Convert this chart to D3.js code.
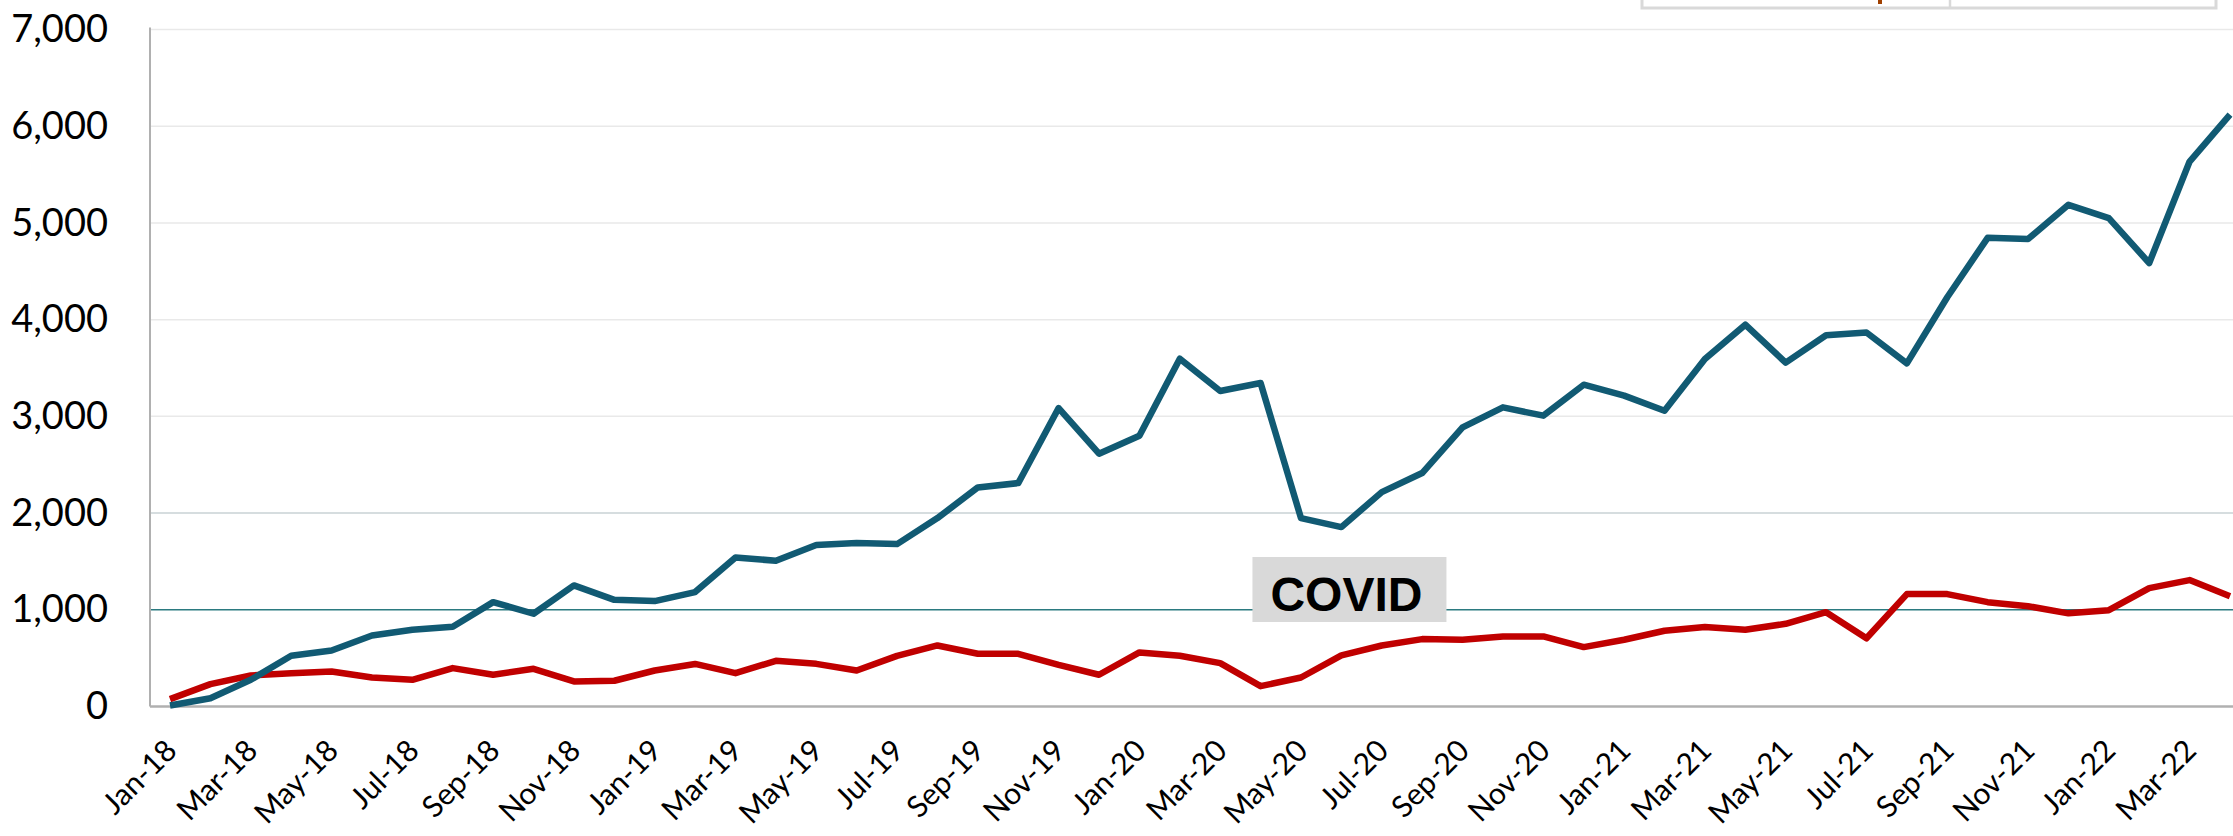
<!DOCTYPE html>
<html>
<head>
<meta charset="utf-8">
<script src="https://d3js.org/d3.v7.min.js"></script>
<style>
  body { margin: 0; background: #fff; }
  svg { display: block; }
</style>
</head>
<body>
<div id="chart"></div>
<script>
// chart data
var months = ["Jan-18","Feb-18","Mar-18","Apr-18","May-18","Jun-18","Jul-18","Aug-18","Sep-18","Oct-18","Nov-18","Dec-18",
  "Jan-19","Feb-19","Mar-19","Apr-19","May-19","Jun-19","Jul-19","Aug-19","Sep-19","Oct-19","Nov-19","Dec-19",
  "Jan-20","Feb-20","Mar-20","Apr-20","May-20","Jun-20","Jul-20","Aug-20","Sep-20","Oct-20","Nov-20","Dec-20",
  "Jan-21","Feb-21","Mar-21","Apr-21","May-21","Jun-21","Jul-21","Aug-21","Sep-21","Oct-21","Nov-21","Dec-21",
  "Jan-22","Feb-22","Mar-22","Apr-22"];

var blueValues = [10, 86, 276, 524, 579, 734, 793, 824, 1079, 959, 1252, 1103,
  1090, 1183, 1541, 1507, 1669, 1690, 1679, 1948, 2265, 2310, 3086, 2614,
  2800, 3596, 3262, 3345, 1948, 1855, 2217, 2414, 2886, 3093, 3007, 3327,
  3214, 3058, 3593, 3948, 3555, 3838, 3867, 3548, 4232, 4846, 4834, 5187,
  5050, 4585, 5635, 6120];

var redValues = [76, 231, 321, 345, 362, 300, 276, 397, 328, 390, 259, 266,
  372, 440, 345, 472, 441, 372, 524, 631, 545, 545, 431, 328,
  559, 524, 448, 210, 300, 528, 631, 697, 690, 724, 724, 614,
  690, 783, 821, 793, 855, 975, 705, 1162, 1162, 1079, 1037, 963,
  996, 1224, 1307, 1141];

var yTicks = [0, 1000, 2000, 3000, 4000, 5000, 6000, 7000];

// annotation
var noteText = "COVID";
var noteMonth = 29.2;   // month index the box sits on
var noteTop = 1546, noteBottom = 874;

var svgWidth = 2233;
var svgHeight = 836;

var svg = d3.select("#chart")
  .append("svg")
  .attr("width", svgWidth)
  .attr("height", svgHeight);

var plotLeft = 150, plotRight = 2233;
var x = d3.scaleLinear().domain([0, months.length - 1]).range([170, 2230]);
var y = d3.scaleLinear().domain([0, 7000]).range([706.5, 29.5]);

// gridlines
svg.append("g")
  .selectAll("line")
  .data(yTicks.filter(function(d) { return d > 0; }))
  .enter()
  .append("line")
  .attr("x1", plotLeft)
  .attr("x2", plotRight)
  .attr("y1", function(d) { return y(d); })
  .attr("y2", function(d) { return y(d); })
  .attr("stroke", function(d) {
    if (d === 1000) return "#2b7a80";
    if (d === 2000) return "#c8d2d5";
    return "#e9e9e9";
  })
  .attr("stroke-width", 1.5);

// axis lines
svg.append("line")
  .attr("x1", plotLeft).attr("x2", plotLeft)
  .attr("y1", y(7000) - 2).attr("y2", y(0))
  .attr("stroke", "#b0b0b0").attr("stroke-width", 2);
svg.append("line")
  .attr("x1", plotLeft).attr("x2", plotRight)
  .attr("y1", y(0)).attr("y2", y(0))
  .attr("stroke", "#b0b0b0").attr("stroke-width", 2.5);

// y axis labels
var leftAxis = d3.axisLeft(y)
  .tickValues(yTicks)
  .tickFormat(d3.format(","))
  .tickSize(0)
  .tickPadding(42);

var yAxis = svg.append("g")
  .attr("transform", `translate(${plotLeft}, 0)`)
  .call(leftAxis);
yAxis.select(".domain").remove();
yAxis.selectAll("text")
  .style("font-family", "Lato, sans-serif")
  .style("font-size", "38px")
  .style("fill", "#000");

// x axis labels, every other month
var bottomAxis = d3.axisBottom(x)
  .tickValues(d3.range(0, months.length, 2))
  .tickFormat(function(i) { return months[i]; })
  .tickSize(0);

var xAxis = svg.append("g")
  .attr("transform", `translate(0, ${y(0)})`)
  .call(bottomAxis);
xAxis.select(".domain").remove();
xAxis.selectAll("text")
  .attr("y", 0)
  .attr("dy", 0)
  .attr("transform", "translate(8, 46) rotate(-45)")
  .style("text-anchor", "end")
  .style("font-family", "Lato, sans-serif")
  .style("font-size", "30px")
  .style("fill", "#000");

// lines
var line = d3.line()
  .x(function(d, i) { return x(i); })
  .y(function(d) { return y(d); });

svg.append("path")
  .datum(redValues)
  .attr("d", line)
  .attr("fill", "none")
  .attr("stroke", "#c00000")
  .attr("stroke-width", 6.5)
  .attr("stroke-linejoin", "round");

svg.append("path")
  .datum(blueValues)
  .attr("d", line)
  .attr("fill", "none")
  .attr("stroke", "#115a73")
  .attr("stroke-width", 6.5)
  .attr("stroke-linejoin", "round");

// COVID box
var noteGroup = svg.append("g");
noteGroup.append("rect")
  .attr("x", x(noteMonth) - 97)
  .attr("y", y(noteTop))
  .attr("width", 194)
  .attr("height", y(noteBottom) - y(noteTop))
  .attr("fill", "#d9d9d9");
noteGroup.append("text")
  .attr("x", x(noteMonth) - 3)
  .attr("y", y(noteBottom) - 11)
  .attr("text-anchor", "middle")
  .style("font-family", "Liberation Sans, Arial, sans-serif")
  .style("font-weight", "bold")
  .style("font-size", "48px")
  .text(noteText);

// legend box, cut off at the top of the picture
var legend = svg.append("g");
legend.append("rect")
  .attr("x", 1642).attr("y", -20)
  .attr("width", 574).attr("height", 28)
  .attr("fill", "#fff")
  .attr("stroke", "#d9d9d9")
  .attr("stroke-width", 3);
legend.append("line")
  .attr("x1", 1950).attr("x2", 1950)
  .attr("y1", 0).attr("y2", 7)
  .attr("stroke", "#d9d9d9")
  .attr("stroke-width", 2.5);
legend.append("rect")
  .attr("x", 1878).attr("y", 0)
  .attr("width", 4).attr("height", 4)
  .attr("fill", "#a04000");
</script>
</body>
</html>
